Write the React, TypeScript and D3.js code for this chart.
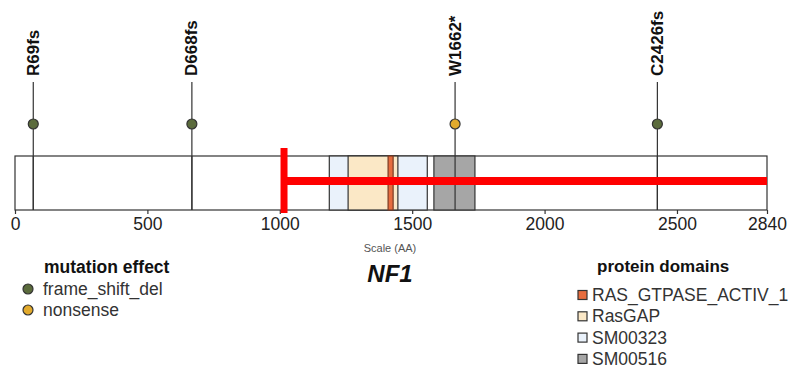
import React, { useEffect, useRef } from 'react';
import * as d3 from 'd3';

// protein
const geneName = 'NF1';
const proteinLength = 2840;
const axisTicks = [0, 500, 1000, 1500, 2000, 2500, 2840];

// mutations
const mutationLabels = ['R69fs', 'D668fs', 'W1662*', 'C2426fs'];
const mutationPositions = [69, 668, 1662, 2426];
const mutationTypes = ['frame_shift_del', 'frame_shift_del', 'nonsense', 'frame_shift_del'];
const mutationTypeNames = ['frame_shift_del', 'nonsense'];
const mutationTypeColors = ['#5b6b3c', '#e2aa2c'];

// domains (drawing order)
const domainNames = ['SM00323', 'RasGAP', 'RAS_GTPASE_ACTIV_1', 'SM00516'];
const domainStarts = [1187, 1258, 1409, 1582];
const domainEnds = [1557, 1446, 1428, 1737];
const legendDomainNames = ['RAS_GTPASE_ACTIV_1', 'RasGAP', 'SM00323', 'SM00516'];
const domainColorMap: Record<string, string> = {
  RAS_GTPASE_ACTIV_1: '#e66c3e',
  RasGAP: '#fbe8c6',
  SM00323: '#eaf2fb',
  SM00516: '#a6a6a6',
};

// red highlight range
const highlightStart = 1016;
const highlightEnd = 2840;

const FONT = '"Liberation Sans", Arial, Helvetica, sans-serif';

export default function App() {
  const ref = useRef<SVGSVGElement>(null);

  useEffect(() => {
    const svg = d3.select(ref.current);
    svg.selectAll('*').remove();

    const boxTop = 156;
    const boxBottom = 210;

    var x = d3.scaleLinear().domain([0, proteinLength]).range([15, 767]);

    /* stems */
    svg.append('g')
      .selectAll('line')
      .data(mutationPositions).enter()
      .append('line')
      .attr('x1', d => x(d)).attr('x2', d => x(d))
      .attr('y1', 82).attr('y2', boxBottom)
      .attr('stroke', '#333').attr('stroke-width', 1.2);

    /* protein box */
    svg.append('rect')
      .attr('x', x(0)).attr('y', boxTop)
      .attr('width', x(proteinLength) - x(0)).attr('height', boxBottom - boxTop)
      .attr('fill', 'none').attr('stroke', '#333').attr('stroke-width', 1.2);

    /* domains */
    svg.append('g')
      .selectAll('rect')
      .data(domainNames).enter()
      .append('rect')
      .attr('x', (d, i) => x(domainStarts[i]))
      .attr('y', boxTop)
      .attr('width', (d, i) => x(domainEnds[i]) - x(domainStarts[i]))
      .attr('height', boxBottom - boxTop)
      .attr('fill', d => domainColorMap[d])
      .attr('stroke', (d) => d === 'RAS_GTPASE_ACTIV_1' ? '#7a3a22' : '#333')
      .attr('stroke-width', 1.2);

    /* stems through the domains */
    svg.append('g')
      .selectAll('line')
      .data(mutationPositions).enter()
      .append('line')
      .attr('x1', d => x(d)).attr('x2', d => x(d))
      .attr('y1', boxTop).attr('y2', boxBottom)
      .attr('stroke', '#333').attr('stroke-width', 1.2);

    /* lollipop heads */
    svg.append('g')
      .selectAll('circle')
      .data(mutationPositions).enter()
      .append('circle')
      .attr('cx', d => x(d)).attr('cy', 124).attr('r', 5)
      .attr('fill', (d, i) => mutationTypeColors[mutationTypeNames.indexOf(mutationTypes[i])])
      .attr('stroke', '#333').attr('stroke-width', 1.2);

    /* mutation labels */
    svg.append('g')
      .selectAll('text')
      .data(mutationLabels).enter()
      .append('text')
      .attr('transform', (d, i) => `translate(${x(mutationPositions[i])}, 76) rotate(-90)`)
      .attr('text-anchor', 'start')
      .attr('dominant-baseline', 'central')
      .attr('font-family', FONT).attr('font-weight', 'bold').attr('font-size', 17)
      .attr('fill', '#111')
      .text(d => d);

    /* axis */
    var axis = d3.axisBottom(x).tickValues(axisTicks).tickSize(4).tickPadding(4).tickFormat(d3.format('d'));
    const ax = svg.append('g')
      .attr('transform', `translate(0, ${boxBottom})`)
      .call(axis);
    ax.select('.domain').remove();
    ax.selectAll('line').attr('stroke', '#333').attr('stroke-width', 1.2);
    ax.selectAll('text').attr('font-family', FONT).attr('font-size', 17.5).attr('fill', '#222');

    svg.append('text')
      .attr('x', 390).attr('y', 252)
      .attr('text-anchor', 'middle')
      .attr('font-family', FONT).attr('font-size', 11).attr('fill', '#555')
      .text('Scale (AA)');

    svg.append('text')
      .attr('x', 390).attr('y', 282)
      .attr('text-anchor', 'middle')
      .attr('font-family', FONT).attr('font-size', 24)
      .attr('font-weight', 'bold').attr('font-style', 'italic')
      .attr('fill', '#111')
      .text(geneName);

    /* red highlight */
    svg.append('line')
      .attr('x1', x(highlightStart)).attr('x2', x(highlightEnd))
      .attr('y1', 181).attr('y2', 181)
      .attr('stroke', '#ff0000').attr('stroke-width', 8);
    svg.append('line')
      .attr('x1', x(highlightStart)).attr('x2', x(highlightStart))
      .attr('y1', 148).attr('y2', 213)
      .attr('stroke', '#ff0000').attr('stroke-width', 7);

    /* mutation legend */
    const leg1 = svg.append('g');
    leg1.append('text')
      .attr('x', 44).attr('y', 273)
      .attr('font-family', FONT).attr('font-weight', 'bold').attr('font-size', 17.5)
      .attr('fill', '#111')
      .text('mutation effect');
    const items1 = leg1.selectAll('g.item')
      .data(mutationTypeNames).enter()
      .append('g').attr('class', 'item')
      .attr('transform', (d, i) => `translate(0, ${289 + i * 21})`);
    items1.append('circle')
      .attr('cx', 28).attr('cy', 0).attr('r', 5)
      .attr('fill', (d, i) => mutationTypeColors[i])
      .attr('stroke', '#333').attr('stroke-width', 1.2);
    items1.append('text')
      .attr('x', 43).attr('y', 0).attr('dy', '0.35em')
      .attr('font-family', FONT).attr('font-size', 17.5).attr('fill', '#333')
      .text(d => d);

    /* domain legend */
    const leg2 = svg.append('g');
    leg2.append('text')
      .attr('x', 597).attr('y', 272)
      .attr('font-family', FONT).attr('font-weight', 'bold').attr('font-size', 17)
      .attr('fill', '#111')
      .text('protein domains');
    const items2 = leg2.selectAll('g.item')
      .data(legendDomainNames).enter()
      .append('g').attr('class', 'item')
      .attr('transform', (d, i) => `translate(0, ${295 + i * 21.3})`);
    items2.append('rect')
      .attr('x', 578).attr('y', -4.5).attr('width', 9).attr('height', 9)
      .attr('fill', d => domainColorMap[d])
      .attr('stroke', '#333').attr('stroke-width', 1.2);
    items2.append('text')
      .attr('x', 592).attr('y', 0).attr('dy', '0.35em')
      .attr('font-family', FONT).attr('font-size', 17.5).attr('fill', '#333')
      .text(d => d);
  }, []);

  return (
    <svg ref={ref} width={795} height={369}
      style={{ position: 'absolute', left: 0, top: 0, background: '#fff' }} />
  );
}
